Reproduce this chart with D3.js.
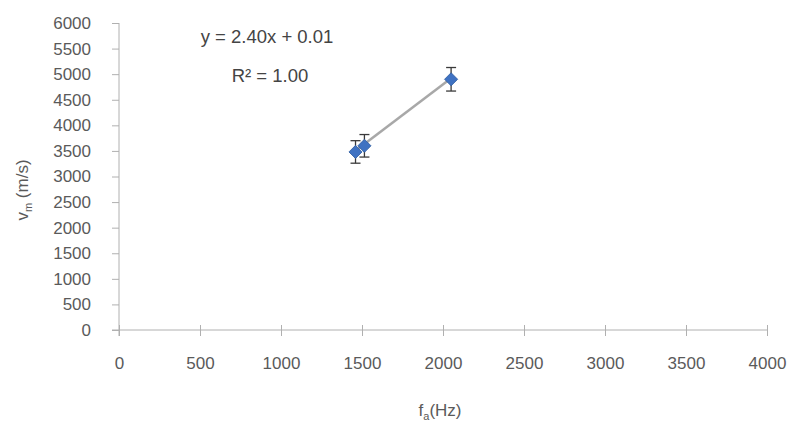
<!DOCTYPE html>
<html><head><meta charset="utf-8">
<script src="https://cdn.jsdelivr.net/npm/d3@7"></script>
<style>body{margin:0;background:#fff}svg{display:block}</style>
</head><body>
<svg id="c" width="794" height="428"></svg>
<script>
const xTicks = [0,500,1000,1500,2000,2500,3000,3500,4000];
const yTicks = [0,500,1000,1500,2000,2500,3000,3500,4000,4500,5000,5500,6000];
const freq = [1460, 1515, 2050];
const velocity = [3480, 3600, 4900];
const velErr = [220, 220, 230];
const slope = 2.40, intercept = 0.01;
const eqText = "y = 2.40x + 0.01";
const r2Text = "R² = 1.00";

const svg = d3.select("#c");
const x = d3.scaleLinear().domain([0,4000]).range([119,767]);
const y = d3.scaleLinear().domain([0,6000]).range([330,23]);
const font = "'Liberation Sans', Arial, sans-serif";
const axisCol = "#b0b0b0", txtCol = "#5a5a5a";

// y axis
const ya = svg.append("g").attr("transform","translate(119,0)")
  .call(d3.axisLeft(y).tickValues(yTicks).tickSize(7).tickPadding(21).tickFormat(d3.format("d")));
ya.select(".domain").attr("stroke",axisCol).attr("d",`M0,${y(6000)}V${y(0)+6}`);
ya.selectAll(".tick line").attr("stroke",axisCol);
ya.selectAll(".tick text").attr("fill",txtCol).style("font-family",font).style("font-size","17px");

// x axis
const xa = svg.append("g").attr("transform",`translate(0,${y(0)})`)
  .call(d3.axisBottom(x).tickValues(xTicks).tickSize(6).tickPadding(21).tickFormat(d3.format("d")));
xa.select(".domain").attr("stroke",axisCol).attr("d",`M${x(0)-7},0H${x(4000)}`);
xa.selectAll(".tick line").attr("stroke",axisCol).attr("y1",-5);
xa.selectAll(".tick text").attr("fill",txtCol).style("font-family",font).style("font-size","17px");

// trend line
const x0 = d3.min(freq), x1 = d3.max(freq);
svg.append("line")
  .attr("x1",x(x0)).attr("y1",y(slope*x0+intercept))
  .attr("x2",x(x1)).attr("y2",y(slope*x1+intercept))
  .attr("stroke","#a8a8a8").attr("stroke-width",2.5);

// error bars
const data = freq.map((f,i)=>({f,v:velocity[i],e:velErr[i]}));
const eb = svg.append("g").attr("stroke","#3a3a3a").attr("stroke-width",1.3);
data.forEach(d=>{
  eb.append("line").attr("x1",x(d.f)).attr("x2",x(d.f)).attr("y1",y(d.v+d.e)).attr("y2",y(d.v-d.e));
  [d.v+d.e,d.v-d.e].forEach(v=>eb.append("line").attr("x1",x(d.f)-5).attr("x2",x(d.f)+5).attr("y1",y(v)).attr("y2",y(v)));
});

// markers
svg.append("g").selectAll("path").data(data).join("path")
  .attr("transform",d=>`translate(${x(d.f)},${y(d.v)})`)
  .attr("d",d3.symbol().type(d3.symbolDiamond2).size(110))
  .attr("fill","#3f72c2").attr("stroke","#2c5aa0").attr("stroke-width",0.8);

// equation text
svg.append("text").attr("x",267).attr("y",43).attr("text-anchor","middle")
  .attr("fill","#444").style("font-family",font).style("font-size","18.5px").text(eqText);
svg.append("text").attr("x",270).attr("y",82).attr("text-anchor","middle")
  .attr("fill","#444").style("font-family",font).style("font-size","18.5px").text(r2Text);

// axis titles
const yl = svg.append("text").attr("transform","translate(28,190) rotate(-90)").attr("text-anchor","middle")
  .attr("fill",txtCol).style("font-family",font).style("font-size","17px");
yl.append("tspan").text("v");
yl.append("tspan").attr("dy",4).style("font-size","11px").text("m");
yl.append("tspan").attr("dy",-4).text(" (m/s)");

const xl = svg.append("text").attr("x",440).attr("y",416).attr("text-anchor","middle")
  .attr("fill",txtCol).style("font-family",font).style("font-size","17px");
xl.append("tspan").text("f");
xl.append("tspan").attr("dy",4).style("font-size","11px").text("a");
xl.append("tspan").attr("dy",-4).text("(Hz)");
</script>
</body></html>
